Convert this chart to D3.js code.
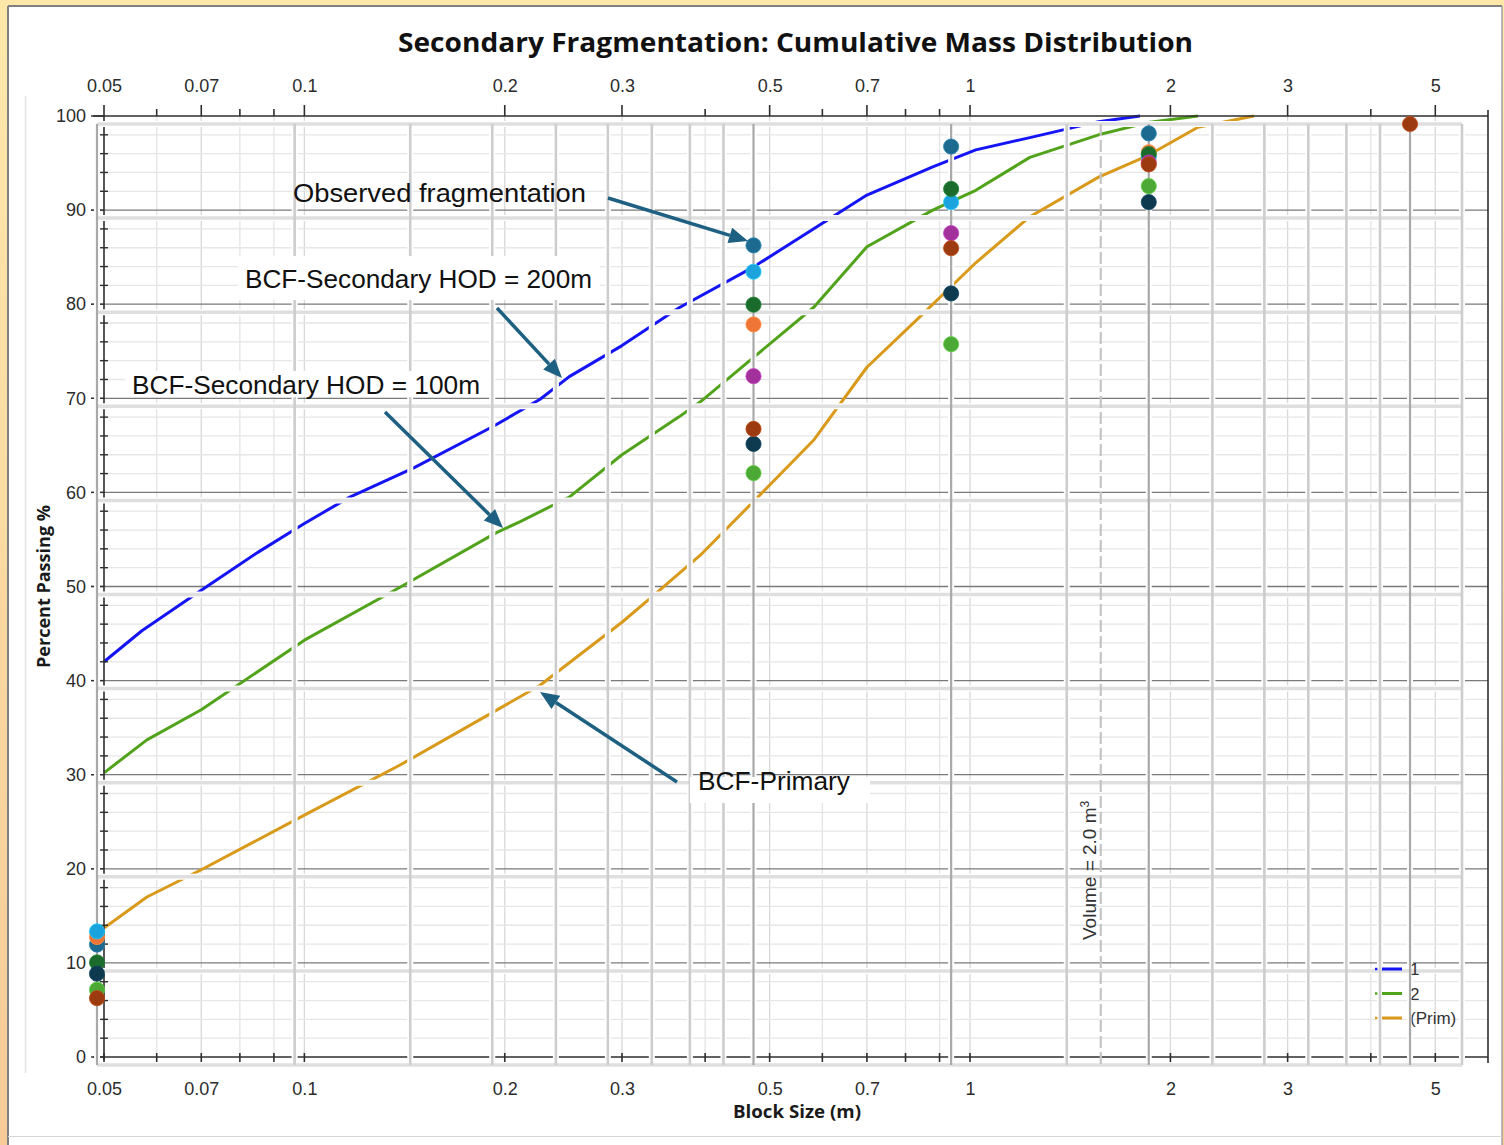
<!DOCTYPE html>
<html><head><meta charset="utf-8">
<script src="https://cdn.jsdelivr.net/npm/d3@7"></script>
<style>html,body{margin:0;padding:0;background:#fff;} svg{display:block}</style>
</head><body>
<svg id="chart" width="1504" height="1145"></svg>
<script>
// ---------------- DATA ----------------
const sizeTicksMajor = [0.05, 0.07, 0.1, 0.2, 0.3, 0.5, 0.7, 1, 2, 3, 5];
const sizeTicksMinor = [0.06, 0.08, 0.09, 0.4, 0.6, 0.8, 0.9, 4];
const sizeGrid = [0.06, 0.07, 0.08, 0.09, 0.1, 0.2, 0.3, 0.4, 0.5, 0.6, 0.7, 0.8, 0.9, 1, 2, 3, 4, 5];
const percentTicks = [0, 10, 20, 30, 40, 50, 60, 70, 80, 90, 100];
const percentMinor = [2, 4, 6, 8, 12, 14, 16, 18, 22, 24, 26, 28, 32, 34, 36, 38, 42, 44, 46, 48, 52, 54, 56, 58, 62, 64, 66, 68, 72, 74, 76, 78, 82, 84, 86, 88, 92, 94, 96, 98];
const overlayGrid = [0.05, 0.1, 0.15, 0.2, 0.25, 0.3, 0.35, 0.4, 0.45, 0.5, 1, 1.5, 2, 2.5, 3, 3.5, 4, 4.5, 5, 6];

// Model curves [block size (m), percent passing]
const hod200 = [[0.05,42.0],[0.057,45.3],[0.07,49.6],[0.085,53.6],[0.1,56.7],[0.117,59.5],[0.146,62.6],[0.192,67.0],[0.226,69.9],[0.25,72.3],[0.3,75.6],[0.365,79.6],[0.474,84.0],[0.7,91.6],[0.879,94.6],[1.02,96.4],[1.23,97.7],[1.56,99.4],[1.8,100]];
const hod100 = [[0.05,30.2],[0.058,33.7],[0.07,36.9],[0.1,44.3],[0.139,49.9],[0.194,55.7],[0.211,56.9],[0.25,59.5],[0.3,64.0],[0.365,68.0],[0.393,69.6],[0.474,74.4],[0.583,79.7],[0.7,86.1],[0.879,90.0],[1.02,92.1],[1.23,95.6],[1.56,98.0],[1.85,99.3],[2.2,100]];
const primary = [[0.05,13.7],[0.058,17.0],[0.07,19.9],[0.1,25.7],[0.139,31.0],[0.183,35.8],[0.226,39.5],[0.3,46.2],[0.329,48.6],[0.393,53.3],[0.48,59.5],[0.583,65.6],[0.7,73.3],[0.839,78.6],[1.02,84.4],[1.23,89.3],[1.56,93.5],[1.85,95.8],[2.2,98.8],[2.67,100]];

// Observed fragmentation samples (percent passing at each screen size)
const observedSizes = [0.05, 0.5, 1, 2, 5];
const obsTeal      = [12.8, 87.1, 97.6, 99.0, null];
const obsOrange    = [13.6, 78.7, null, 97.0, null];
const obsLightBlue = [14.2, 84.3, 91.7, 96.5, null];
const obsDarkGreen = [10.9, 80.8, 93.1, 96.8, null];
const obsNavy      = [9.7, 66.0, 82.0, 91.7, null];
const obsMagenta   = [null, 73.2, 88.4, 95.9, null];
const obsLightGreen= [8.0, 62.9, 76.6, 93.4, null];
const obsBrown     = [7.1, 67.6, 86.8, 95.7, 100];
const volumeSize = 1.69;

// ---------------- SETUP ----------------
const svg = d3.select('#chart');
const FONT = '"Liberation Sans", Arial, sans-serif';
const defs = svg.append('defs');
const grad = defs.append('linearGradient').attr('id','bg').attr('x1',0).attr('y1',0).attr('x2',0).attr('y2',1);
grad.append('stop').attr('offset','0%').attr('stop-color','#FDE8AA');
grad.append('stop').attr('offset','100%').attr('stop-color','#F6CB98');
svg.append('rect').attr('width',1504).attr('height',1145).attr('fill','url(#bg)');
svg.append('rect').attr('x',8).attr('y',6).attr('width',1494).attr('height',1139).attr('fill','#fff');
svg.append('line').attr('x1',8).attr('x2',8).attr('y1',6).attr('y2',1145).attr('stroke','#808080').attr('stroke-width',2);
svg.append('line').attr('x1',8).attr('x2',1502).attr('y1',6).attr('y2',6).attr('stroke','#808080').attr('stroke-width',2);
svg.append('line').attr('x1',1502).attr('x2',1502).attr('y1',6).attr('y2',1145).attr('stroke','#A0A0A0').attr('stroke-width',1.5);
svg.append('line').attr('x1',8).attr('x2',1502).attr('y1',1136.5).attr('y2',1136.5).attr('stroke','#D6D6D6').attr('stroke-width',1);
svg.append('line').attr('x1',25.5).attr('x2',25.5).attr('y1',96).attr('y2',1073).attr('stroke','#E2E2E2').attr('stroke-width',1.5);

const xMain = d3.scaleLog().domain([0.05, 6]).range([104, 1488]);
const yMain = d3.scaleLinear().domain([0, 100]).range([1057, 116]);
const xOver = d3.scaleLog().domain([0.05, 6]).range([97, 1462]);
const yOver = d3.scaleLinear().domain([0, 100]).range([1065, 124]);

// ---------------- MAIN GRID ----------------
const gGrid = svg.append('g');
gGrid.selectAll('.vmin').data(sizeGrid).join('line')
  .attr('x1', d => xMain(d)).attr('x2', d => xMain(d))
  .attr('y1', yMain(100)).attr('y2', yMain(0))
  .attr('stroke', d => sizeTicksMajor.includes(d) ? '#D8D8D8' : '#E4E4E4').attr('stroke-width', 1.3);
gGrid.selectAll('.hmin').data(percentMinor).join('line')
  .attr('x1', xMain(0.05)).attr('x2', xMain(6))
  .attr('y1', d => yMain(d)).attr('y2', d => yMain(d))
  .attr('stroke', '#E6E6E6').attr('stroke-width', 1.3);
gGrid.selectAll('.hmaj').data(percentTicks.filter(d => d > 0 && d < 100)).join('line')
  .attr('x1', 91).attr('x2', xMain(6))
  .attr('y1', d => yMain(d)).attr('y2', d => yMain(d))
  .attr('stroke', '#7A7A7A').attr('stroke-width', 1.3);

// ---------------- CURVES ----------------
const line = d3.line().x(d => xMain(d[0])).y(d => yMain(d[1]));
const curves = [
  {data: primary, color: '#D99A1B'},
  {data: hod100, color: '#52A31C'},
  {data: hod200, color: '#1414F5'}
];
svg.append('g').selectAll('path').data(curves).join('path')
  .attr('d', d => line(d.data)).attr('fill','none')
  .attr('stroke', d => d.color).attr('stroke-width', 3).attr('stroke-linejoin','round');

// ---------------- MAIN AXES ----------------
const gAx = svg.append('g');
const axisCol = '#2E2E2E';
gAx.append('line').attr('x1',93).attr('x2',1488).attr('y1',yMain(100)).attr('y2',yMain(100)).attr('stroke',axisCol).attr('stroke-width',1.6);
gAx.append('line').attr('x1',93).attr('x2',1488).attr('y1',yMain(0)).attr('y2',yMain(0)).attr('stroke',axisCol).attr('stroke-width',1.6);
gAx.append('line').attr('x1',xMain(0.05)).attr('x2',xMain(0.05)).attr('y1',yMain(100)).attr('y2',yMain(0)+3).attr('stroke',axisCol).attr('stroke-width',1.6);
gAx.append('line').attr('x1',xMain(6)).attr('x2',xMain(6)).attr('y1',yMain(100)-6).attr('y2',yMain(0)+6).attr('stroke',axisCol).attr('stroke-width',1.6);
// top ticks
gAx.selectAll('.tt').data(sizeTicksMajor).join('line')
  .attr('x1', d => xMain(d)).attr('x2', d => xMain(d)).attr('y1', yMain(100)).attr('y2', yMain(100)-11)
  .attr('stroke', axisCol).attr('stroke-width', 1.6);
gAx.selectAll('.tm').data(sizeTicksMinor).join('line')
  .attr('x1', d => xMain(d)).attr('x2', d => xMain(d)).attr('y1', yMain(100)).attr('y2', yMain(100)-7)
  .attr('stroke', axisCol).attr('stroke-width', 1.6);
// bottom ticks
gAx.selectAll('.bt').data(sizeTicksMajor).join('line')
  .attr('x1', d => xMain(d)).attr('x2', d => xMain(d)).attr('y1', yMain(0)-4).attr('y2', yMain(0)+9)
  .attr('stroke', axisCol).attr('stroke-width', 1.6);
gAx.selectAll('.bm').data(sizeTicksMinor).join('line')
  .attr('x1', d => xMain(d)).attr('x2', d => xMain(d)).attr('y1', yMain(0)-4).attr('y2', yMain(0)+5)
  .attr('stroke', axisCol).attr('stroke-width', 1.6);
// left ticks
gAx.selectAll('.lt').data(percentTicks).join('line')
  .attr('x1', 91).attr('x2', xMain(0.05)).attr('y1', d => yMain(d)).attr('y2', d => yMain(d))
  .attr('stroke', axisCol).attr('stroke-width', 1.4);
gAx.selectAll('.lm').data(percentMinor).join('line')
  .attr('x1', xMain(0.05)-5).attr('x2', xMain(0.05)+4).attr('y1', d => yMain(d)).attr('y2', d => yMain(d))
  .attr('stroke', axisCol).attr('stroke-width', 1.4);

function styleAxis(g) {
  g.select('.domain').remove();
  g.attr('font-family', FONT).attr('font-size', 18);
  g.selectAll('text').attr('fill', '#2C2C2C');
  g.selectAll('.tick line').remove();
}
svg.append('g').attr('transform', `translate(0,${yMain(100)})`)
  .call(d3.axisTop(xMain).tickValues(sizeTicksMajor).tickFormat(d => String(d)).tickSize(0).tickPadding(24)).call(styleAxis);
svg.append('g').attr('transform', `translate(0,${yMain(0)})`)
  .call(d3.axisBottom(xMain).tickValues(sizeTicksMajor).tickFormat(d => String(d)).tickSize(0).tickPadding(25)).call(styleAxis);
svg.append('g').attr('transform', `translate(${xMain(0.05)},0)`)
  .call(d3.axisLeft(yMain).tickValues(percentTicks).tickFormat(d => String(d)).tickSize(0).tickPadding(18)).call(styleAxis);

// ---------------- OVERLAY GRID ----------------
const gO = svg.append('g');
gO.selectAll('.ohh').data(percentTicks).join('line')
  .attr('x1', xOver(0.05)).attr('x2', xOver(6)).attr('y1', d => yOver(d)).attr('y2', d => yOver(d))
  .attr('stroke', '#fff').attr('stroke-width', 6);
gO.selectAll('.ovh').data(overlayGrid).join('line')
  .attr('x1', d => xOver(d)).attr('x2', d => xOver(d)).attr('y1', yOver(100)).attr('y2', yOver(0))
  .attr('stroke', '#fff').attr('stroke-width', 6);
gO.selectAll('.oh').data(percentTicks).join('line')
  .attr('x1', xOver(0.05)).attr('x2', xOver(6)).attr('y1', d => yOver(d)).attr('y2', d => yOver(d))
  .attr('stroke', '#DFDFDF').attr('stroke-width', 3.5);
gO.selectAll('.ov').data(overlayGrid).join('line')
  .attr('x1', d => xOver(d)).attr('x2', d => xOver(d)).attr('y1', yOver(100)).attr('y2', yOver(0))
  .attr('stroke', d => observedSizes.includes(d) ? '#A9A9A9' : '#CDCDCD')
  .attr('stroke-width', d => observedSizes.includes(d) ? 2.2 : 2.6);

// volume line
svg.append('line').attr('x1', xOver(volumeSize)).attr('x2', xOver(volumeSize))
  .attr('y1', yOver(100)).attr('y2', yOver(0))
  .attr('stroke', '#C4C4C4').attr('stroke-width', 2.2).attr('stroke-dasharray', '12,4');
const vt = svg.append('text').attr('transform', `translate(${xOver(volumeSize)-5},940) rotate(-90)`)
  .attr('font-family', FONT).attr('font-size', 19).attr('fill', '#333');
vt.append('tspan').text('Volume = 2.0 m');
vt.append('tspan').attr('baseline-shift', 'super').attr('font-size', 12).text('3');

// ---------------- OBSERVED DOTS ----------------
const observed = [
  {values: obsTeal, color: '#1C6A8F'},
  {values: obsOrange, color: '#EE7535'},
  {values: obsLightBlue, color: '#1BA3DD'},
  {values: obsDarkGreen, color: '#1B6B2C'},
  {values: obsNavy, color: '#0E3A50'},
  {values: obsMagenta, color: '#A2319C'},
  {values: obsLightGreen, color: '#4DA935'},
  {values: obsBrown, color: '#9B3B0F'}
];
const gD = svg.append('g');
observed.forEach(s => {
  const pts = s.values.map((v, i) => ({size: observedSizes[i], v})).filter(p => p.v !== null);
  gD.append('g').selectAll('circle').data(pts).join('circle')
    .attr('cx', p => xOver(p.size)).attr('cy', p => yOver(p.v)).attr('r', 7.6)
    .attr('fill', s.color).attr('stroke', d3.color(s.color).brighter(0.6)).attr('stroke-width', 0.8);
});

// ---------------- LEGEND ----------------
const legendItems = [
  {label: '1', color: '#1414F5'},
  {label: '2', color: '#52A31C'},
  {label: '(Prim)', color: '#D99A1B'}
];
defs.append('clipPath').attr('id','legclip').append('rect').attr('x',1411.5).attr('y',950).attr('width',60).attr('height',90);
const gL = svg.append('g');
legendItems.forEach((it, i) => {
  const y = 969 + i * 24.5;
  gL.append('rect').attr('x', 1375).attr('y', y - 1.2).attr('width', 2.4).attr('height', 2.4).attr('fill', it.color);
  gL.append('line').attr('x1', 1382).attr('x2', 1402).attr('y1', y).attr('y2', y).attr('stroke', it.color).attr('stroke-width', 3);
  gL.append('text').attr('x', 1410).attr('y', y + 6).attr('font-family', FONT).attr('font-size', 17)
    .attr('fill', '#333').attr('clip-path', 'url(#legclip)').text(it.label);
});

// ---------------- TITLES ----------------
function fitText(sel, w) { sel.attr('textLength', w).attr('lengthAdjust', 'spacingAndGlyphs'); return sel; }
fitText(svg.append('text').attr('x', 398).attr('y', 52).attr('font-family', '"Open Sans", "Noto Sans", sans-serif')
  .attr('font-weight', 700).attr('font-size', 27.5).attr('fill', '#111')
  .text('Secondary Fragmentation: Cumulative Mass Distribution'), 795);
fitText(svg.append('text').attr('x', 733).attr('y', 1118).attr('font-family', '"Open Sans", "Noto Sans", sans-serif')
  .attr('font-weight', 700).attr('font-size', 18).attr('fill', '#1A1A1A').text('Block Size (m)'), 128);
fitText(svg.append('text').attr('transform', 'translate(50,668) rotate(-90)').attr('font-family', '"Open Sans", "Noto Sans", sans-serif')
  .attr('font-weight', 700).attr('font-size', 17.5).attr('fill', '#1A1A1A').text('Percent Passing %'), 163);

// ---------------- ANNOTATIONS ----------------
const annCol = '#1D6081';
const gA = svg.append('g');
const boxes = [[238, 256, 362, 44], [125, 371, 364, 26], [690, 777, 180, 26]];
boxes.forEach(b => gA.append('rect').attr('x', b[0]).attr('y', b[1]).attr('width', b[2]).attr('height', b[3]).attr('fill', '#fff'));
const labels = [
  {t: 'Observed fragmentation', x: 293, y: 202, w: 293},
  {t: 'BCF-Secondary HOD = 200m', x: 245, y: 288, w: 347},
  {t: 'BCF-Secondary HOD = 100m', x: 132, y: 394, w: 348},
  {t: 'BCF-Primary', x: 698, y: 790, w: 152}
];
labels.forEach(l => fitText(gA.append('text').attr('x', l.x).attr('y', l.y).attr('font-family', FONT)
  .attr('font-size', 25.5).attr('fill', '#111').text(l.t), l.w));
const arrows = [[608,198,748,241],[497,308,562,378],[385,412,503,528],[677,782,540,692]];
arrows.forEach(a => {
  const [x1,y1,x2,y2] = a;
  const ang = Math.atan2(y2-y1, x2-x1), L = 19, hw = 8;
  const bx = x2 - L*Math.cos(ang), by = y2 - L*Math.sin(ang);
  gA.append('line').attr('x1', x1).attr('y1', y1).attr('x2', bx).attr('y2', by)
    .attr('stroke', annCol).attr('stroke-width', 3.5);
  const px = -Math.sin(ang), py = Math.cos(ang);
  gA.append('path').attr('d', `M${x2},${y2}L${bx+px*hw},${by+py*hw}L${bx-px*hw},${by-py*hw}Z`).attr('fill', annCol);
});
</script>
</body></html>
